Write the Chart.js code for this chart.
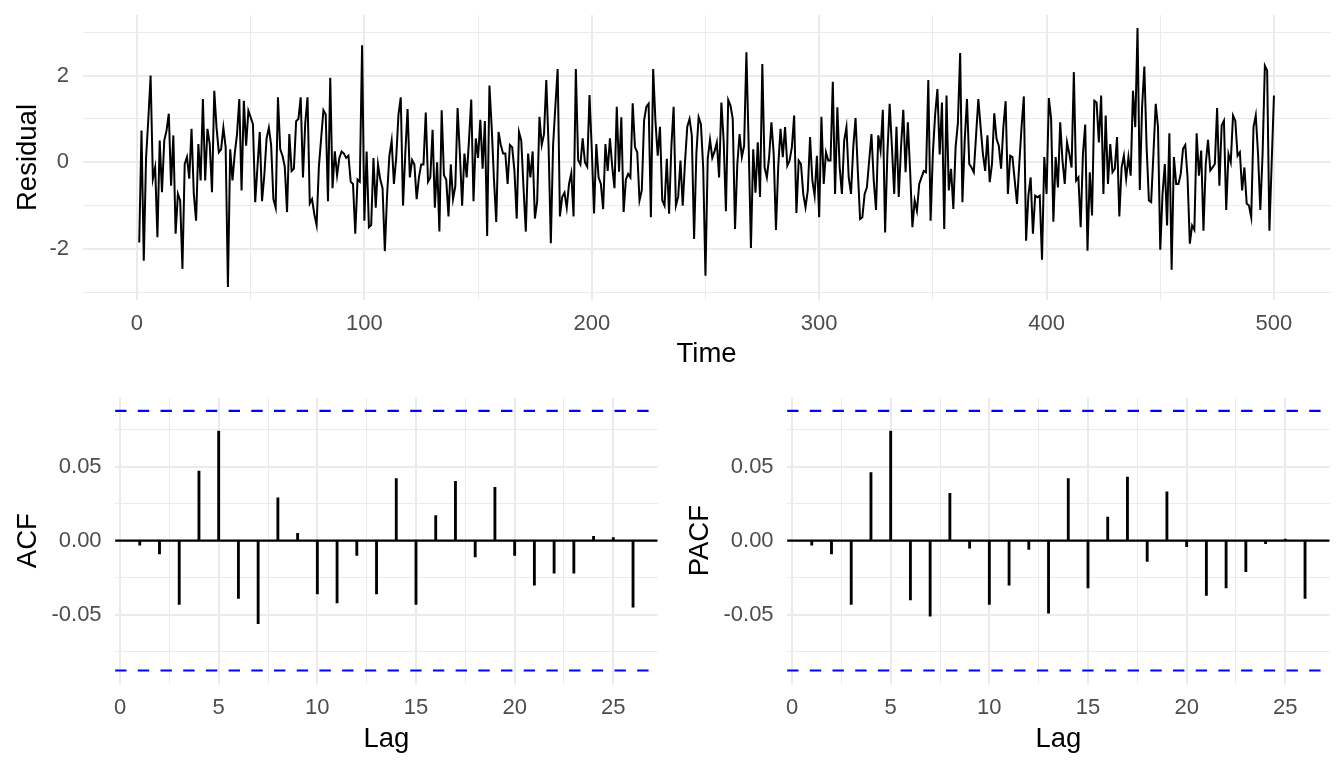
<!DOCTYPE html>
<html>
<head>
<meta charset="utf-8">
<script src="https://cdn.jsdelivr.net/npm/chart.js@4.4.1/dist/chart.umd.min.js"></script>
<style>
  html, body { margin: 0; padding: 0; background: #fff; }
  #wrap { position: relative; width: 1344px; height: 768px; overflow: hidden; background: #fff; }
  canvas { position: absolute; }
</style>
</head>
<body>
<div id="wrap">
  <canvas id="resid" width="1344" height="380" style="left:0;top:0"></canvas>
  <canvas id="acf" width="672" height="388" style="left:0;top:380px"></canvas>
  <canvas id="pacf" width="672" height="388" style="left:672px;top:380px"></canvas>
</div>
<script>
// Residuals (t = 1..500)
const residual = [
  -1.85, 0.73, -2.27, 0.1, 1.0, 2.0, -0.38, -0.12, -1.73, 0.5,
  -0.69, 0.5, 0.73, 1.12, -0.54, 0.62, -1.65, -0.73, -0.88, -2.46,
  -0.04, 0.12, -0.38, 0.77, -0.73, -1.35, 0.42, -0.42, 1.46, -0.42,
  0.77, 0.42, -0.69, 1.65, 0.8, 0.23, 0.3, 0.8, 0.35, -2.88,
  0.3, -0.42, 0.2, 0.65, 1.46, -0.65, 1.42, 0.38, 1.19, 1.04,
  0.88, -0.92, -0.1, 0.7, -0.9, -0.3, 0.55, 0.8, 0.4, -0.85,
  -1.05, 1.5, 0.3, 0.15, -0.1, -1.15, 0.65, -0.2, -0.15, 0.95,
  1.0, 1.5, -0.35, 0.9, 1.5, -0.95, -0.85, -1.2, -1.45, -0.1,
  0.55, 1.2, 1.1, -0.9, 1.95, -0.6, 0.25, -0.3, 0.1, 0.25,
  0.2, 0.1, 0.15, -0.45, -0.5, -1.65, -0.4, -0.45, 2.7, -1.35,
  0.25, -1.5, -1.45, 0.1, -1.05, -0.05, -0.4, -0.6, -2.05, -0.75,
  0.15, 0.5, -0.5, 0.1, 1.1, 1.5, -1.0, 0.2, 1.23, -0.35,
  0.05, -0.05, -0.85, -0.35, -0.05, -0.05, 1.15, -0.45, -0.35, 0.75,
  -1.05, 0.0, -1.6, 1.2, -0.3, -0.4, -1.25, -0.05, -0.85, -0.55,
  1.25, 0.2, -1.0, 0.2, -0.35, 0.5, 1.45, -0.9, 0.55, 0.1,
  0.98, -0.15, 0.95, -1.7, 1.77, 0.8, -0.4, -1.38, 0.7, 0.4,
  0.2, 0.2, -0.5, 0.4, 0.35, -0.2, -1.3, 0.7, 0.5, -0.6,
  -1.6, 0.2, -0.35, 0.25, -1.3, -0.9, 1.05, 0.4, 0.65, 1.9,
  0.4, -1.87, 0.4, 1.3, 2.15, -1.25, -0.8, -0.7, -1.05, -0.5,
  -0.25, -1.25, 2.15, 0.05, -0.05, 0.55, 0.0, -0.1, 1.55, 0.3,
  -1.18, 0.42, -0.35, -0.5, -1.08, 0.42, -0.2, 0.55, -0.1, -0.6,
  1.28, -0.22, 1.04, -1.15, -0.4, -0.27, -0.35, 1.36, 0.35, 0.23,
  -0.88, -0.65, 0.96, 1.28, 1.35, -1.27, 2.15, 0.96, 0.15, 0.82,
  -0.88, -1.0, 0.08, -1.19, 0.35, 1.28, -1.0, -0.8, 0.04, -1.0,
  0.0, 0.82, 1.0, 0.62, -1.77, 0.2, 1.04, 0.88, -0.12, -2.62,
  0.08, 0.52, 0.1, 0.25, 0.46, -0.35, 1.38, 0.5, -1.13, 1.44,
  1.31, 1.0, -1.54, -0.05, 0.65, 0.12, 0.38, 2.54, 0.4, -1.98,
  0.3, -0.7, 0.46, -0.8, 2.27, -0.12, -0.35, 0.12, 0.92, 0.2,
  -1.56, -0.1, 0.77, 0.12, 0.81, -0.08, 0.04, 0.35, 1.08, -1.17,
  0.04, -0.04, -0.73, -1.04, -0.65, 0.58, -0.42, -0.77, 0.15, -1.27,
  1.05, -0.5, 0.23, 0.04, 0.04, 1.86, -0.73, 1.27, -0.1, -0.73,
  0.5, 0.81, -0.35, -0.73, 0.35, 1.02, -0.2, -1.31, -1.27, -0.73,
  -0.58, 0.04, 0.65, -0.42, -1.1, 0.62, 0.27, 1.21, -1.62, 0.2,
  1.35, 0.35, -0.73, 0.82, -0.8, 0.35, 1.21, -0.23, 0.92, -0.2,
  -1.5, -0.88, -1.12, -0.5, -0.35, -0.2, -0.23, 1.9, -1.35, 0.2,
  1.1, 1.69, 0.18, 1.38, -1.54, 1.54, -0.65, -0.15, -1.08, 0.35,
  0.9, 2.52, -0.92, 0.5, 1.46, -0.04, -0.12, -0.23, 0.62, 1.46,
  0.81, 0.2, -0.2, 0.62, -0.46, -0.04, 1.13, 0.54, 0.38, -0.15,
  0.81, 1.41, -0.73, 0.15, 0.12, -0.42, -0.96, -0.04, 0.81, 1.52,
  -1.81, -0.77, -0.35, -1.65, -0.77, -0.81, -0.77, -2.25, 0.12, -0.73,
  1.48, 1.0, -1.37, 0.12, -0.58, 0.92, 0.04, -0.5, 0.46, 0.2,
  -0.12, 2.08, -0.42, -0.35, -1.5, 0.2, 0.87, -2.04, -0.23, -1.23,
  1.42, 1.38, 0.46, 1.54, -0.73, 1.08, -0.5, 0.42, -0.23, -0.15,
  0.58, -1.25, -0.12, 0.15, -0.38, 0.12, -0.31, 1.65, 0.81, 3.1,
  -0.64, 1.27, 2.21, 0.35, -0.88, -0.92, 0.2, 1.35, 0.81, -2.02,
  -0.73, -0.04, -1.46, 0.67, -2.48, 0.12, -0.5, -0.5, -0.27, 0.31,
  0.4, -0.35, -1.88, -1.46, -1.56, 0.67, -0.31, 0.27, -1.58, -0.04,
  0.52, -0.19, -0.12, -0.04, 1.25, -0.54, 0.85, 0.96, -1.1, 0.19,
  0.0, 1.08, 0.96, 0.15, 0.23, -0.65, -0.12, -0.95, -1.0, -1.27,
  0.81, 1.08, 0.19, -1.1, 0.19, 2.23, 2.12, -1.58, 0.0, 1.54
]
const time = residual.map((_, i) => i + 1)

// Correlograms
const lags = [1, 2, 3, 4, 5, 6, 7, 8, 9, 10, 11, 12, 13, 14, 15, 16, 17, 18, 19, 20, 21, 22, 23, 24, 25, 26]
const acfValues = [-0.003, -0.009, -0.043, 0.047, 0.074, -0.039, -0.056, 0.029, 0.005, -0.036,
  -0.042, -0.010, -0.036, 0.042, -0.043, 0.017, 0.040, -0.011, 0.036, -0.010,
  -0.030, -0.022, -0.022, 0.003, 0.002, -0.045]
const pacfValues = [-0.003, -0.009, -0.043, 0.046, 0.074, -0.040, -0.051, 0.032, -0.005, -0.043,
  -0.030, -0.006, -0.049, 0.042, -0.032, 0.016, 0.043, -0.014, 0.033, -0.004,
  -0.037, -0.032, -0.021, -0.002, 0.001, -0.039]
const ciBound = 0.0877

// Tick positions (majors get labels, the rest are minor grid lines)
const timeTicks = [0, 50, 100, 150, 200, 250, 300, 350, 400, 450, 500]
const residualTicks = [-3, -2, -1, 0, 1, 2, 3]
const lagTicks = [0, 2.5, 5, 7.5, 10, 12.5, 15, 17.5, 20, 22.5, 25]
const corrTicks = [-0.075, -0.05, -0.025, 0, 0.025, 0.05, 0.075]

const FONT = "'Liberation Sans', Arial, Helvetica, sans-serif"
const GRID = "#EBEBEB"

const isMultiple = step => v => Math.abs(v / step - Math.round(v / step)) < 1e-6

// ggplot-ish axis: fixed ticks, no border, no tick marks
function makeScale(o) {
  return {
    type: "linear",
    min: o.min,
    max: o.max,
    offset: false,
    afterBuildTicks: s => { s.ticks = o.ticks.map(v => ({ value: v })) },
    afterFit: s => {
      if (o.width !== undefined) s.width = o.width
      if (o.height !== undefined) s.height = o.height
      // labels never overhang the panel here, so drop the extra padding
      s.paddingTop = 0
      s.paddingBottom = 0
      s.paddingLeft = 0
      s.paddingRight = 0
    },
    border: { display: false },
    grid: {
      offset: false,
      color: GRID,
      drawTicks: false,
      lineWidth: c => o.major(c.tick.value) ? 2 : 1
    },
    ticks: {
      autoSkip: false,
      maxRotation: 0,
      padding: o.tickPad,
      color: "#4D4D4D",
      font: { family: FONT, size: 22 },
      callback: v => o.major(v) ? o.format(v) : ""
    },
    title: {
      display: true,
      text: o.title,
      color: "#000",
      font: { family: FONT, size: 27.5 },
      padding: o.titlePad
    }
  }
}

// Top panel: residual series
const rMin = Math.min(...residual), rMax = Math.max(...residual)
const rPad = (rMax - rMin) * 0.05
const tPad = (time[time.length - 1] - time[0]) * 0.05

new Chart(document.getElementById("resid"), {
  type: "line",
  data: {
    datasets: [{
      data: residual.map((r, i) => ({ x: time[i], y: r })),
      borderColor: "#000",
      borderWidth: 2,
      pointRadius: 0,
      tension: 0
    }]
  },
  options: {
    responsive: false,
    animation: false,
    layout: { padding: { left: 0, top: 15, right: 13.3, bottom: 0 } },
    plugins: { legend: { display: false }, tooltip: { enabled: false } },
    scales: {
      x: makeScale({
        min: time[0] - tPad, max: time[time.length - 1] + tPad,
        ticks: timeTicks, major: isMultiple(100), format: v => String(v),
        title: "Time", height: 80, tickPad: 11, titlePad: { top: 0, bottom: 9 }
      }),
      y: makeScale({
        min: rMin - rPad, max: rMax + rPad,
        ticks: residualTicks, major: isMultiple(2), format: v => String(v),
        title: "Residual", width: 82.5, tickPad: 13.5, titlePad: { top: 11.5, bottom: 0 }
      })
    }
  }
})

// Bottom panels: ACF and PACF
function correlogram(id, values, label) {
  const xMin = lags[0] - (lags[lags.length - 1] - lags[0]) * 0.05
  const xMax = lags[lags.length - 1] + (lags[lags.length - 1] - lags[0]) * 0.05
  const yLim = ciBound * 1.1
  const hline = (y, color, dash) => ({
    type: "line",
    data: [{ x: xMin, y: y }, { x: xMax, y: y }],
    borderColor: color,
    borderWidth: 2.2,
    borderDash: dash,
    pointRadius: 0
  })

  return new Chart(document.getElementById(id), {
    type: "bar",
    data: {
      datasets: [
        hline(ciBound, "#0000FF", [11.4, 11.3]),
        hline(-ciBound, "#0000FF", [11.4, 11.3]),
        {
          type: "bar",
          data: lags.map((l, i) => ({ x: l, y: values[i] })),
          backgroundColor: "#000",
          barThickness: 2.2
        },
        hline(0, "#000", [])
      ]
    },
    options: {
      responsive: false,
      animation: false,
      layout: { padding: { left: 0, top: 17.8, right: 14.3, bottom: 0 } },
      plugins: { legend: { display: false }, tooltip: { enabled: false } },
      scales: {
        x: makeScale({
          min: xMin, max: xMax,
          ticks: lagTicks, major: isMultiple(5), format: v => String(v),
          title: "Lag", height: 84.5, tickPad: 11, titlePad: { top: 0, bottom: 12.5 }
        }),
        y: makeScale({
          min: -yLim, max: yLim,
          ticks: corrTicks, major: isMultiple(0.05), format: v => v.toFixed(2),
          title: label, width: 115.1, tickPad: 13.5, titlePad: { top: 11.5, bottom: 0 }
        })
      }
    }
  })
}

correlogram("acf", acfValues, "ACF")
correlogram("pacf", pacfValues, "PACF")
</script>
</body>
</html>
